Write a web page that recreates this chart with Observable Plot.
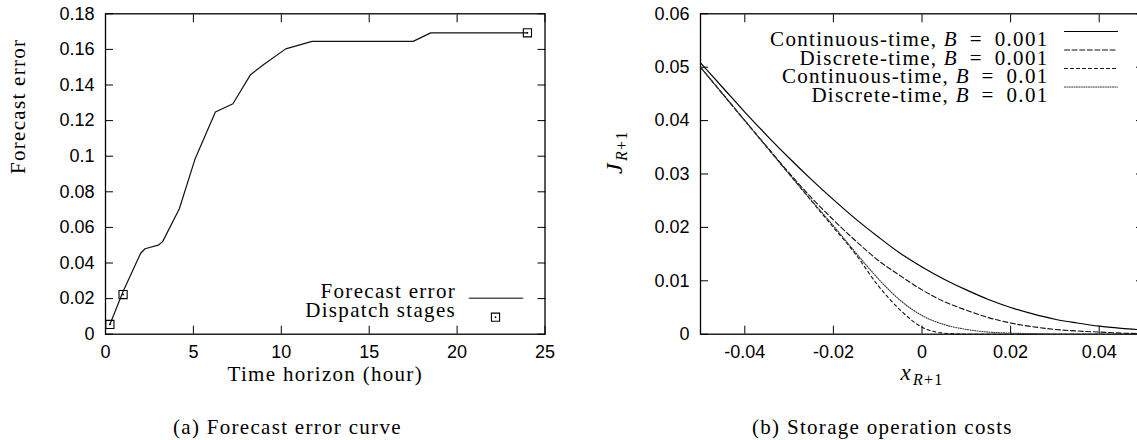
<!DOCTYPE html>
<html><head><meta charset="utf-8">
<script src="https://cdn.jsdelivr.net/npm/d3@7"></script>
<script src="https://cdn.jsdelivr.net/npm/@observablehq/plot@0.6"></script>
<style>
body{margin:0;background:#fff;}
#wrap{position:relative;width:1137px;height:440px;overflow:hidden;background:#fff;}
.panel{position:absolute;top:0;}
.panel svg{max-width:none !important;}
.cap{position:absolute;top:417px;font-family:"Liberation Serif",serif;font-size:21px;letter-spacing:1.3px;line-height:21px;white-space:nowrap;color:#000;}
</style></head><body>
<div id="wrap">
  <div id="pa" class="panel" style="left:0px;width:570px"></div>
  <div id="pb" class="panel" style="left:570px;width:580px"></div>
  <div class="cap" style="left:173px">(a) Forecast error curve</div>
  <div class="cap" style="left:752px">(b) Storage operation costs</div>
</div>
<script>
// ---------- Panel (a) data ----------
const hours = [0.25, 1.0, 2.0, 2.25, 3.0, 3.25, 4.2, 5.1, 6.25, 7.25, 8.25, 9.0, 10.25, 11.75, 17.5, 18.5, 24.0];
const forecastError = [0.0055, 0.024, 0.0455, 0.048, 0.050, 0.052, 0.0705, 0.0986, 0.1248, 0.1295, 0.1458, 0.1515, 0.1603, 0.1645, 0.1645, 0.1693, 0.1693];
const stageHours = [0.25, 1.0, 24.0];
const stageError = [0.0055, 0.0223, 0.1693];
const xTicksA = [0, 5, 10, 15, 20, 25];
const yTicksA = [0, 0.02, 0.04, 0.06, 0.08, 0.1, 0.12, 0.14, 0.16, 0.18];

// ---------- Panel (b) data ----------
const xR = [-0.05, -0.045, -0.04, -0.035, -0.03, -0.025, -0.02, -0.015, -0.01, -0.005, 0, 0.005, 0.01, 0.015, 0.02, 0.025, 0.03, 0.035, 0.04, 0.045, 0.05];
const contB001 = [0.0508, 0.0462, 0.0416, 0.0372, 0.0330, 0.0290, 0.0252, 0.0216, 0.0183, 0.0152, 0.0126, 0.0103, 0.0083, 0.0065, 0.0050, 0.0038, 0.0028, 0.0021, 0.0015, 0.0011, 0.0008];
const discB001 = [0.0500, 0.0450, 0.0400, 0.0351, 0.0302, 0.0256, 0.0214, 0.0175, 0.0139, 0.0110, 0.0083, 0.0061, 0.0045, 0.0031, 0.0021, 0.0014, 0.0009, 0.0006, 0.0004, 0.0002, 0.0001];
const contB01 = [0.0500, 0.0450, 0.0400, 0.0350, 0.0300, 0.0250, 0.0200, 0.0150, 0.0092, 0.0046, 0.0013, 0.0002, 0, 0, 0, 0, 0, 0, 0, 0, 0];
const discB01 = [0.0500, 0.0450, 0.0400, 0.0350, 0.0300, 0.0251, 0.0203, 0.0153, 0.0105, 0.0064, 0.0035, 0.0018, 0.0009, 0.0004, 0.0002, 0.0001, 0, 0, 0, 0, 0];
const xTicksB = [-0.04, -0.02, 0, 0.02, 0.04];
const yTicksB = [0, 0.01, 0.02, 0.03, 0.04, 0.05, 0.06];
const seriesB = [
  {name: "Continuous-time, B = 0.001", values: contB001, dash: null, color: "#000", width: 1.2},
  {name: "Discrete-time, B = 0.001", values: discB001, dash: "5,2.6", color: "#111", width: 1.1},
  {name: "Continuous-time, B = 0.01", values: contB01, dash: "3,3", color: "#111", width: 1.1},
  {name: "Discrete-time, B = 0.01", values: discB01, dash: "1,1.4", color: "#333", width: 1.1}
];

const SANS = "Liberation Sans, Arial, sans-serif";
const SERIF = "Liberation Serif, Times New Roman, serif";
const lineShape = {draw(ctx, l) { ctx.moveTo(0, 0); ctx.lineTo(0, -l); }};

function boxAxes(xt, yt, fmtX, fmtY) {
  return [
    Plot.frame({stroke: "#000", strokeWidth: 1.3}),
    Plot.axisX(xt, {anchor: "bottom", tickSize: -8, fill: "none", stroke: "#000", label: null}),
    Plot.axisX(xt, {anchor: "top", tickSize: -8, fill: "none", stroke: "#000", label: null}),
    Plot.axisY(yt, {anchor: "left", tickSize: -8, fill: "none", stroke: "#000", label: null}),
    Plot.axisY(yt, {anchor: "right", tickSize: -8, fill: "none", stroke: "#000", label: null}),
    Plot.axisX(xt, {anchor: "bottom", tickSize: 0, tickPadding: 11, stroke: "none", fill: "#000", label: null, tickFormat: fmtX, fontSize: 18}),
    Plot.axisY(yt, {anchor: "left", tickSize: 0, tickPadding: 11, stroke: "none", fill: "#000", label: null, tickFormat: fmtY, fontSize: 18})
  ];
}
const fmtNum = d => String(+d.toFixed(4));

// ---------- Panel (a) ----------
const dataA = hours.map((h, i) => ({h, e: forecastError[i]}));
const stagesA = stageHours.map((h, i) => ({h, e: stageError[i]}));
const plotA = Plot.plot({
  width: 570, height: 400,
  marginLeft: 105, marginRight: 25.5, marginTop: 13.3, marginBottom: 66.3,
  style: {fontFamily: SANS, fontSize: "18px", background: "#fff", color: "#000"},
  x: {domain: [0, 25]},
  y: {domain: [0, 0.18]},
  marks: [
    ...boxAxes(xTicksA, yTicksA, fmtNum, fmtNum),
    Plot.line(dataA, {x: "h", y: "e", stroke: "#111", strokeWidth: 1.2}),
    Plot.dot(stagesA, {x: "h", y: "e", symbol: "square", r: 4.6, stroke: "#000", strokeWidth: 1.1, fill: "none"}),
    Plot.dot(stagesA, {x: "h", y: "e", r: 0.9, fill: "#000", stroke: "none"}),
    Plot.text(["Forecast error"], {frameAnchor: "left", dx: -87, rotate: -90, fontFamily: SERIF, fontSize: 21, fill: "#000"}),
    Plot.text(["Time horizon (hour)"], {frameAnchor: "bottom", dy: 47, fontFamily: SERIF, fontSize: 21, fill: "#000"}),
    // legend
    Plot.text(["Forecast error"], {frameAnchor: "bottom-right", dx: -89, dy: -36, textAnchor: "end", fontFamily: SERIF, fontSize: 21, fill: "#000"}),
    Plot.text(["Dispatch stages"], {frameAnchor: "bottom-right", dx: -89, dy: -17, textAnchor: "end", fontFamily: SERIF, fontSize: 21, fill: "#000"}),
    Plot.vector([0], {frameAnchor: "bottom-right", dx: -75.5, dy: -36, length: 53, rotate: 90, anchor: "start", shape: lineShape, stroke: "#555", strokeWidth: 1.6}),
    Plot.dot([0], {frameAnchor: "bottom-right", dx: -49.5, dy: -17, symbol: "square", r: 4.6, stroke: "#000", strokeWidth: 1.1, fill: "none"}),
    Plot.dot([0], {frameAnchor: "bottom-right", dx: -49.5, dy: -17, r: 0.9, fill: "#000", stroke: "none"})
  ]
});
document.getElementById("pa").append(plotA);

// ---------- Panel (b) ----------
const lineMarks = seriesB.map(s => Plot.line(xR.map((x, i) => ({x, y: s.values[i]})), {
  x: "x", y: "y", curve: "monotone-x", stroke: s.color, strokeWidth: s.width, strokeDasharray: s.dash
}));
const legendB = seriesB.flatMap((s, i) => [
  Plot.text([s.name], {frameAnchor: "top-right", dx: -95, dy: 17.7 + 18.5 * i, textAnchor: "end", fontFamily: SERIF, fontSize: 21, fill: "#000"}),
  Plot.vector([0], {frameAnchor: "top-right", dx: -79, dy: 17.7 + 18.5 * i, length: 53, rotate: 90, anchor: "start", shape: lineShape, stroke: s.color, strokeWidth: s.width, strokeDasharray: s.dash})
]);
const plotB = Plot.plot({
  width: 580, height: 400,
  marginLeft: 130, marginRight: 7, marginTop: 13.3, marginBottom: 66.3,
  style: {fontFamily: SANS, fontSize: "18px", background: "#fff", color: "#000"},
  x: {domain: [-0.05, 0.05]},
  y: {domain: [0, 0.06]},
  marks: [
    ...boxAxes(xTicksB, yTicksB, fmtNum, fmtNum),
    ...lineMarks,
    Plot.text(["J_{R+1}"], {frameAnchor: "left", dx: -86, rotate: -90, fontFamily: SERIF, fontSize: 24, fill: "#000"}),
    Plot.text(["x_{R+1}"], {frameAnchor: "bottom", dy: 46, fontFamily: SERIF, fontSize: 23, fill: "#000"}),
    ...legendB
  ]
});
document.getElementById("pb").append(plotB);

// ---------- rich text post-processing ----------
for (const svg of [plotA, plotB]) {
  d3.select(svg).selectAll("text").each(function() {
    const t = d3.select(this);
    const s = this.textContent;
    const g = this.parentNode;
    if (g && g.getAttribute && (g.getAttribute("font-family") || "").startsWith("Liberation Serif")) {
      t.attr("letter-spacing", "1.3px");
    }
    let m = s.match(/^([xJ])_\{R\+1\}$/);
    if (m) {
      t.text(null);
      t.append("tspan").attr("font-style", "italic").text(m[1]);
      const sub = t.append("tspan").attr("font-size", 16).attr("dy", "0.3em").attr("dx", "1");
      sub.append("tspan").attr("font-style", "italic").text("R");
      sub.append("tspan").text("+1");
      return;
    }
    m = s.match(/^(.*), B = (.*)$/);
    if (m) {
      t.text(null);
      t.append("tspan").text(m[1] + ", ");
      t.append("tspan").attr("font-style", "italic").text("B");
      t.append("tspan").text("\u2002=\u2002" + m[2]);
    }
  });
}
</script>
</body></html>
